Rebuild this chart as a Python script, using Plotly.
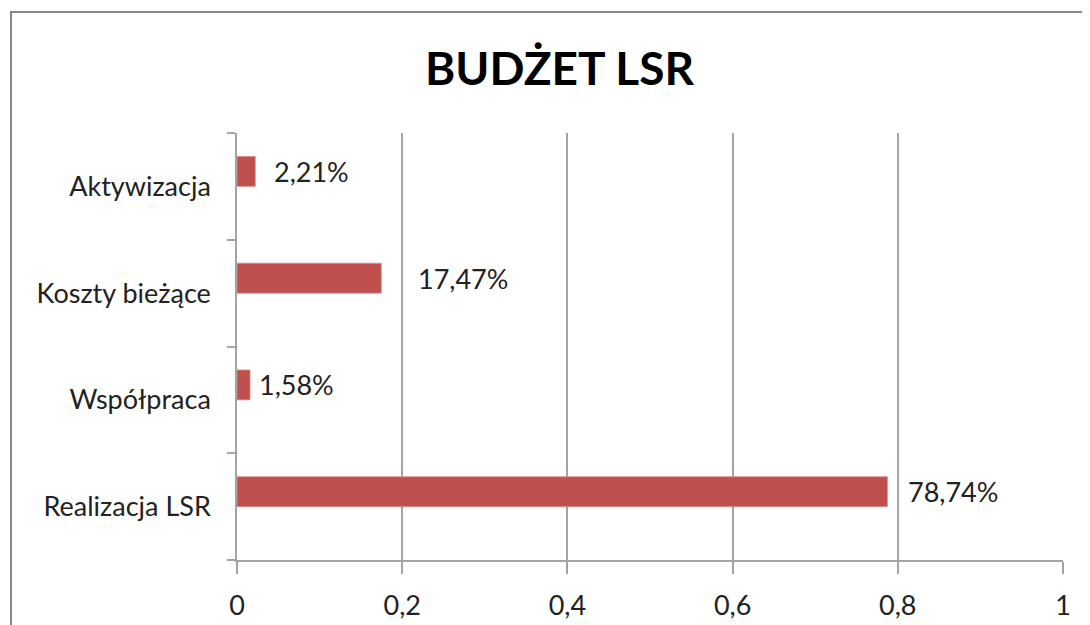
import plotly.graph_objects as go

categories = ["Realizacja LSR", "Współpraca", "Koszty bieżące", "Aktywizacja"]
values = [0.7874, 0.0158, 0.1747, 0.0221]
label_gap = [19, 7, 35, 17]
x_ticks = [0, 0.2, 0.4, 0.6, 0.8, 1.0]

# page body margin offset (plot is drawn at 8,8 in the window)
OX, OY = 8, 8
W, H = 1090 - OX, 625 - OY
L, T = 237 - OX, 133 - OY
R = W - (1063 - OX)
B = H - (560 - OY)
pw, ph = W - L - R, H - T - B

FONT = "Lato"
FS = 27
BAR = "#C0504D"
GRID = "#a3a3a3"

fig = go.Figure()
fig.add_trace(go.Bar(
    x=values, y=categories, orientation="h",
    marker=dict(color=BAR, line=dict(color="#d98c8a", width=0.8)),
    offset=0.0, width=0.28, hoverinfo="skip",
))

for v, c, g in zip(values, categories, label_gap):
    fig.add_annotation(
        x=v, y=c, text=f"{v*100:.2f}%".replace(".", ","),
        xanchor="left", yanchor="middle", xshift=g, yshift=15,
        showarrow=False, font=dict(family=FONT, size=FS, color="#222222"),
    )

def px_x(p):
    return (p - OX - L) / pw

def px_y(p):
    return (H - B - (p - OY)) / ph

fig.add_shape(type="rect", xref="paper", yref="paper",
              x0=px_x(11), x1=px_x(1110), y0=px_y(660), y1=px_y(12),
              line=dict(color="#878787", width=2), layer="below")

fig.add_annotation(text="<b>BUDŻET LSR</b>", xref="paper", yref="paper",
                   x=px_x(559), y=px_y(67), xanchor="center", yanchor="middle",
                   showarrow=False, font=dict(family=FONT, size=46, color="#000000"))

fig.update_layout(
    width=W, height=H, margin=dict(l=L, r=R, t=T, b=B, autoexpand=False),
    paper_bgcolor="white", plot_bgcolor="white",
    separators=", ", showlegend=False,
    font=dict(family=FONT, size=FS, color="#222222"),
    xaxis=dict(range=[0, 1], tickvals=x_ticks,
               ticktext=[f"{t:g}".replace(".", ",") for t in x_ticks],
               showgrid=True, gridcolor=GRID, gridwidth=1.5,
               showline=True, linecolor=GRID, linewidth=1.5,
               ticks="outside", ticklen=12, tickcolor=GRID, tickwidth=1.5,
               zeroline=False, fixedrange=True, ticklabelstandoff=9),
    yaxis=dict(categoryorder="array", categoryarray=categories,
               range=[-0.5, len(categories) - 0.5],
               tickson="boundaries", ticks="outside", ticklen=8,
               tickcolor=GRID, tickwidth=1.5,
               showline=True, linecolor=GRID, linewidth=1.5,
               showgrid=False, zeroline=False, fixedrange=True,
               ticklabelstandoff=19),
)

fig.write_html("out.html")
